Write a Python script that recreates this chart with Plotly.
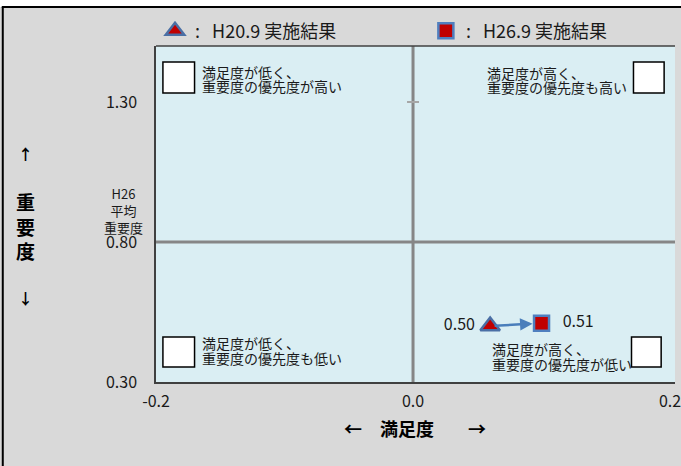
import plotly.graph_objects as go

# ---- data ----
series_names = [":\u00a0\u00a0\u00a0H20.9 実施結果", ":\u00a0\u00a0\u00a0H26.9 実施結果"]
satisfaction = [0.06, 0.10]        # x (満足度)
importance = [0.50, 0.51]          # y (重要度)
point_labels = ["0.50\u00a0", "\u00a0\u00a0\u00a00.51"]
x_tickvals = [-0.2, 0.0, 0.2]
x_ticktext = ["-0.2", "0.0", "0.2"]
y_tickvals = [0.30, 0.80, 1.30]
y_ticktext = ["0.30", "0.80", "1.30"]
x_center = 0.0
y_center = 0.80   # H26 平均 重要度
quadrant_texts = [
    ["満足度が低く、", "重要度の優先度が高い"],
    ["満足度が高く、", "重要度の優先度も高い"],
    ["満足度が低く、", "重要度の優先度も低い"],
    ["満足度が高く、", "重要度の優先度が低い"],
]

W, H = 681, 466
L, R, T, B = 156, 0, 46, 84
PW, PH = W - L - R, H - T - B
FONT = "Noto Sans CJK JP"


def px_x(x):
    return (x - L) / PW


def px_y(y):
    return (H - B - y) / PH


RED = "#c00000"
BLUE_T = "#4a6fa5"
BLUE_S = "#4f7fbf"

fig = go.Figure()
fig.add_trace(go.Scatter(
    x=[satisfaction[0]], y=[importance[0]], mode="markers+text",
    name=series_names[0], text=[point_labels[0]], textposition="middle left",
    textfont=dict(size=16, color="#1a1a1a", family=FONT),
    marker=dict(symbol="triangle-up", size=17, color=RED,
                line=dict(color=BLUE_T, width=2.5)),
    cliponaxis=False, legend="legend",
))
fig.add_trace(go.Scatter(
    x=[satisfaction[1]], y=[importance[1]], mode="markers+text",
    name=series_names[1], text=[point_labels[1]], textposition="middle right",
    textfont=dict(size=16, color="#1a1a1a", family=FONT),
    marker=dict(symbol="square", size=15, color=RED,
                line=dict(color=BLUE_S, width=2.5)),
    cliponaxis=False, legend="legend2",
))

xmax = -0.2 + PW * 0.4 / 520

shapes = []
# top white band and black border
shapes.append(dict(type="rect", xref="paper", yref="paper", x0=px_x(-10), x1=px_x(W + 10),
                   y0=px_y(7), y1=px_y(-10), fillcolor="white", line=dict(width=0), layer="above"))
shapes.append(dict(type="line", xref="paper", yref="paper", x0=px_x(0), x1=px_x(W + 10),
                   y0=px_y(7), y1=px_y(7), line=dict(color="black", width=2), layer="above"))
shapes.append(dict(type="line", xref="paper", yref="paper", x0=px_x(1), x1=px_x(1),
                   y0=px_y(7), y1=px_y(H + 10), line=dict(color="black", width=2), layer="above"))
# plot top border
shapes.append(dict(type="line", xref="paper", yref="paper", x0=0, x1=1, y0=1, y1=1,
                   line=dict(color="#404040", width=1.5), layer="above"))
# centre lines
shapes.append(dict(type="line", xref="x", yref="paper", x0=x_center, x1=x_center, y0=0, y1=1,
                   line=dict(color="#868686", width=3), layer="below"))
shapes.append(dict(type="line", xref="paper", yref="y", x0=0, x1=1, y0=y_center, y1=y_center,
                   line=dict(color="#868686", width=3), layer="below"))
# cross tick at 1.30 on the centre axis
shapes.append(dict(type="line", xref="x", yref="y", xsizemode="pixel", xanchor=x_center,
                   x0=-6, x1=6, y0=y_tickvals[2], y1=y_tickvals[2],
                   line=dict(color="#a6a6a6", width=2), layer="below"))

# quadrant boxes (pixel positions)
boxes = [(163, 62, 195, 93), (639, 62, 670, 93), (163, 337, 195, 367), (637, 337, 667, 367)]
for (x0, y0, x1, y1) in boxes:
    shapes.append(dict(type="rect", xref="paper", yref="paper", x0=px_x(x0), x1=px_x(x1),
                       y0=px_y(y1), y1=px_y(y0), fillcolor="white",
                       line=dict(color="black", width=1.5), layer="above"))

annotations = []
text_pos = [(201, 72, 86), (489, 73, 87), (201, 343, 358), (494, 349, 364)]
for (tx, ya, yb), lines in zip(text_pos, quadrant_texts):
    for yy, t in zip((ya, yb), lines):
        annotations.append(dict(xref="paper", yref="paper", x=px_x(tx), y=px_y(yy), text=t,
                                showarrow=False, xanchor="left", yanchor="middle",
                                font=dict(size=14, color="#1a1a1a", family=FONT)))

# arrow from H20.9 to H26.9
annotations.append(dict(x=satisfaction[1], y=importance[1], ax=satisfaction[0], ay=importance[0],
                        xref="x", yref="y", axref="x", ayref="y", showarrow=True,
                        arrowhead=2, arrowsize=1, arrowwidth=2.5, arrowcolor="#4a7ebb",
                        standoff=9, startstandoff=3, text=""))

# H26 average label
annotations.append(dict(xref="paper", yref="paper", x=px_x(123), y=px_y(210),
                        text="H26<br>平均<br>重要度", showarrow=False, xanchor="center",
                        yanchor="middle", align="center",
                        font=dict(size=13, color="#1a1a1a", family=FONT)))

# axis titles
annotations.append(dict(xref="paper", yref="paper", x=px_x(24), y=px_y(153), text="<b>↑</b>",
                        showarrow=False, xanchor="center", yanchor="middle",
                        font=dict(size=15, color="black", family=FONT)))
annotations.append(dict(xref="paper", yref="paper", x=px_x(24), y=px_y(226),
                        text="<b>重<br>要<br>度</b>", showarrow=False, align="center",
                        xanchor="center", yanchor="middle",
                        font=dict(size=19, color="black", family=FONT)))
annotations.append(dict(xref="paper", yref="paper", x=px_x(24), y=px_y(297), text="<b>↓</b>",
                        showarrow=False, xanchor="center", yanchor="middle",
                        font=dict(size=15, color="black", family=FONT)))
for xx, t in ((355, "<b>←</b>"), (410, "<b>満足度</b>"), (481, "<b>→</b>")):
    annotations.append(dict(xref="paper", yref="paper", x=px_x(xx), y=px_y(428),
                            text=t, showarrow=False, xanchor="center", yanchor="middle",
                            font=dict(size=18, color="black", family=FONT)))

legend_common = dict(orientation="h", xanchor="left", yanchor="middle",
                     bgcolor="rgba(0,0,0,0)", font=dict(size=18, family=FONT, color="#1a1a1a"),
                     itemclick=False, itemdoubleclick=False)

fig.update_layout(
    width=W, height=H,
    margin=dict(l=L, r=R, t=T, b=B, pad=0),
    paper_bgcolor="#d9d9d9",
    plot_bgcolor="#daeef3",
    font=dict(family=FONT, color="#1a1a1a"),
    shapes=shapes,
    annotations=annotations,
    showlegend=True,
    legend=dict(x=px_x(155), y=px_y(31), **legend_common),
    legend2=dict(x=px_x(429), y=px_y(31), **legend_common),
    xaxis=dict(range=[-0.2, xmax], tickvals=x_tickvals, ticktext=x_ticktext,
               showgrid=False, zeroline=False, showline=True, linecolor="#404040", linewidth=1.5,
               ticks="", ticklabelstandoff=4, ticklabeloverflow="allow",
               tickfont=dict(size=16, family=FONT, color="#1a1a1a")),
    yaxis=dict(range=[0.3, 1.5], tickvals=y_tickvals, ticktext=y_ticktext,
               showgrid=False, zeroline=False, showline=True, linecolor="#404040", linewidth=1.5,
               ticks="", ticklabelstandoff=14, tickfont=dict(size=16, family=FONT, color="#1a1a1a")),
)

fig.write_html("out.html")
